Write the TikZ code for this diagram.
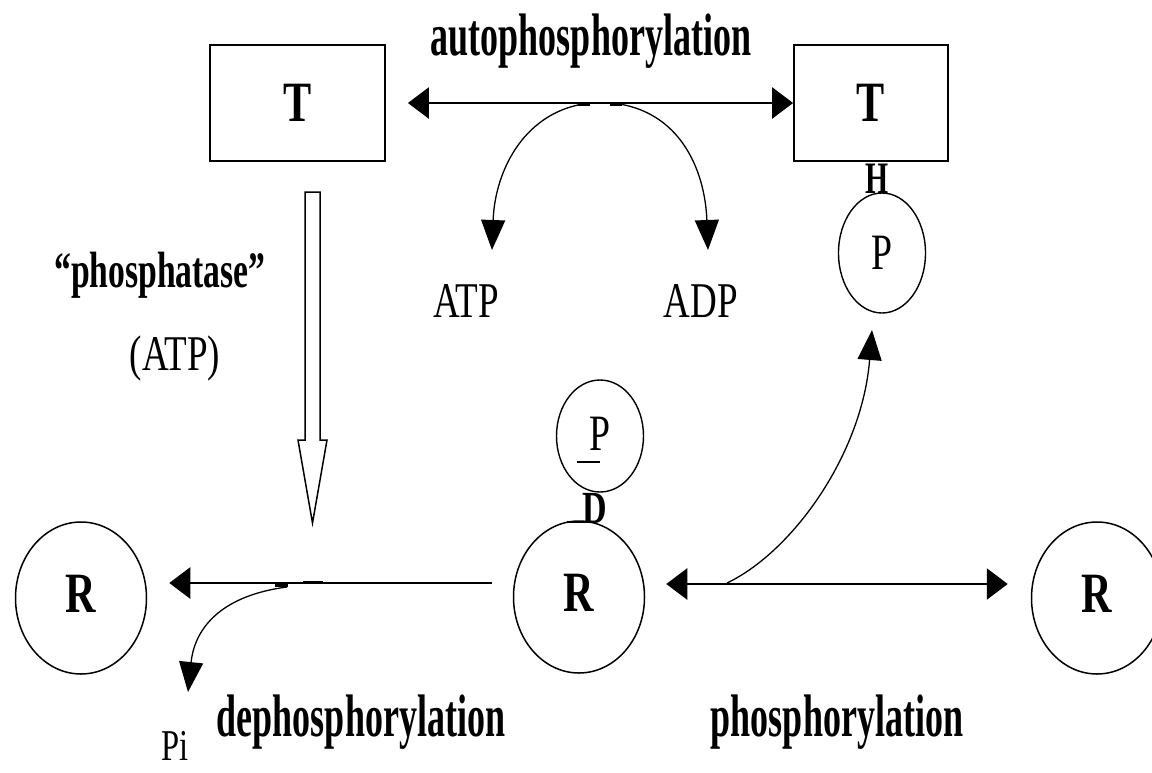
\documentclass[tikz,border=0pt]{standalone}
\usepackage{fontspec}
\setmainfont{Liberation Serif}
% condensed cuts of the serif face used for the labels
\newfontfamily\slimfont[FakeStretch=0.6]{Liberation Serif}
\newfontfamily\midfont[FakeStretch=0.66]{Liberation Serif}
\newfontfamily\widefont[FakeStretch=0.74]{Liberation Serif}
\usetikzlibrary{arrows.meta,shapes.geometric,calc}

\begin{document}
\begin{tikzpicture}[x=1pt,y=1pt,
  boxnode/.style={draw,line width=1.8pt,inner sep=0pt,
    font=\widefont\bfseries\fontsize{57}{57}\selectfont},
  cellnode/.style={draw,ellipse,line width=1.5pt,inner sep=0pt,
    minimum width=131pt,minimum height=152pt,
    font=\widefont\bfseries\fontsize{57}{57}\selectfont},
  pnode/.style={draw,ellipse,line width=1.4pt,inner sep=0pt,
    minimum width=87pt,font=\widefont\fontsize{51}{51}\selectfont},
  biglabel/.style={anchor=base,inner sep=0pt,
    font=\slimfont\bfseries\fontsize{60}{60}\selectfont},
  smalllabel/.style={anchor=base,inner sep=0pt,
    font=\widefont\fontsize{50}{50}\selectfont},
  bond/.style={anchor=base,inner sep=0pt,
    font=\midfont\bfseries\fontsize{45}{45}\selectfont},
  mainarrow/.style={line width=2.6pt,
    {Triangle[length=21pt,width=31pt]}-{Triangle[length=21pt,width=31pt]}},
  leftarrow/.style={line width=2.6pt,-{Triangle[length=21pt,width=31pt]}},
  curvarrow/.style={line width=1.3pt,-{Triangle[length=30pt,width=24pt]}},
  nub/.style={line width=3pt}]

\path[use as bounding box] (0,0) rectangle (1152,-772);
\clip (0,0) rectangle (1152,-772);

% receptor boxes
\node[boxnode,minimum width=175pt,minimum height=116pt] (boxL) at (297.5,-103) {T};
\node[boxnode,minimum width=154pt,minimum height=116pt] (boxR) at (871,-103) {T};

% phosphate groups
\node[pnode,minimum height=120pt] (pTop) at (882,-253) {P};
\node[pnode,minimum height=112pt] (pLow) at (600,-436) {\raisebox{5pt}{P}};

% response regulators
\node[cellnode] (rL) at (81,-598) {\raisebox{9pt}{R}};
\node[cellnode] (rM) at (579,-597) {\raisebox{9pt}{R}};
\node[cellnode] (rR) at (1097,-598) {\raisebox{9pt}{R}};

% bond glyphs
\node[bond] (hBond) at (877,-193) {H};
\node[bond,font=\widefont\bfseries\fontsize{46}{46}\selectfont] (dBond) at (595,-523) {D};
\draw[line width=1.5pt] (577,-462) -- (600,-462);
\draw[line width=1.8pt] (567,-522) -- (587,-522);

% text labels
\node[biglabel] (autoLab) at (591,-55) {autophosphorylation};
\node[smalllabel] (atp) at (466,-317) {ATP};
\node[smalllabel] (adp) at (701,-317) {ADP};
\node[biglabel,font=\midfont\bfseries\fontsize{51}{51}\selectfont] (phLab) at (160,-287) {“phosphatase”};
\node[smalllabel] (atpPh) at (175,-370) {(ATP)};
\node[biglabel] (dephLab) at (361,-736) {dephosphorylation};
\node[biglabel] (phosLab) at (837,-736) {phosphorylation};
\node[smalllabel,font=\widefont\fontsize{44}{44}\selectfont] (piLab) at (175,-760) {Pi};

% autophosphorylation
\draw[mainarrow] ([xshift=22pt]boxL.east) -- (boxR.west);
\coordinate (a1) at (590,-103);
\coordinate (a2) at (612,-103);
\coordinate (atpTip) at (492,-250);
\coordinate (adpTip) at (708,-250);
\draw[nub] (578,-104) -- (590,-104);
\draw[nub] (610,-104) -- (622,-104);
\draw[curvarrow] (a1) .. controls (525,-110) and (495,-170) .. (atpTip);
\draw[curvarrow] (a2) .. controls (680,-110) and (705,-170) .. (adpTip);

% phosphatase activity (open arrow)
\draw[line width=1.5pt,fill=white] (305,-192) -- (320,-192) -- (320,-440)
  -- (327,-440) -- (312.5,-523) -- (298,-440) -- (305,-440) -- cycle;

% dephosphorylation
\draw[leftarrow] ([shift={(-21pt,14pt)}]rM.west) -- ([shift={(22pt,15pt)}]rL.east);
\coordinate (d0) at (287,-587);
\coordinate (piTip) at (188,-692);
\draw[nub] (303,-582) -- (323,-582);
\draw[nub] (275,-585) -- (288,-585);
\draw[curvarrow] (d0) .. controls (225,-595) and (195,-625) .. (piTip);

% phosphorylation
\draw[mainarrow] ([shift={(21pt,13pt)}]rM.east) -- ([shift={(-23pt,14pt)}]rR.west);
\coordinate (p0) at (727,-583);
\coordinate (pTip) at (872,-330);
\draw[curvarrow] (p0) .. controls (792,-552) and (862,-455) .. (pTip);

\end{tikzpicture}
\end{document}
